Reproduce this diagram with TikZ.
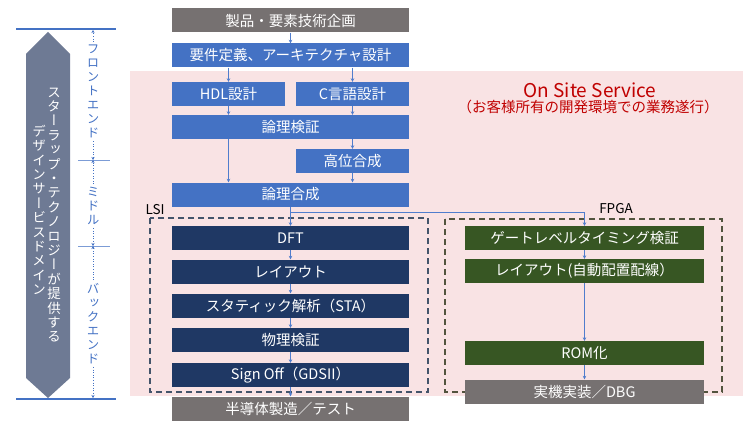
\documentclass[tikz,border=0pt]{standalone}
\usepackage{fontspec}
\setmainfont{Noto Sans CJK JP}
\newfontfamily\vjp[RawFeature=+vert]{Noto Sans CJK JP}
\usepackage{xcolor}
\usetikzlibrary{arrows.meta,positioning,calc}
\definecolor{procgray}{RGB}{118,113,113}
\definecolor{procblue}{RGB}{68,114,196}
\definecolor{lsinavy}{RGB}{31,56,100}
\definecolor{fpgagreen}{RGB}{55,86,35}
\definecolor{sitepink}{RGB}{249,227,228}
\definecolor{sitered}{RGB}{192,0,0}
\definecolor{lsidash}{RGB}{68,84,106}
\definecolor{fpgadash}{RGB}{82,84,62}
\definecolor{domaingray}{RGB}{110,122,148}
\definecolor{flowblue}{RGB}{80,125,205}

\tikzset{
  stage/.style={rectangle,fill=#1,text=white,minimum height=24pt,inner sep=0pt,
    font=\fontsize{14.5}{16}\selectfont},
  wide/.style={minimum width=237pt},
  half/.style={minimum width=113pt},
  flow/.style={draw=flowblue,line width=0.6pt,-{Stealth[length=3.5pt,width=3.5pt]}},
  phase/.style={text=procblue,align=center,inner sep=3pt,
    font=\vjp\fontsize{12.5}{14}\selectfont},
  span/.style={draw=procblue,dotted,line width=0.6pt,-{Stealth[length=3pt,width=3pt]}}
}

\begin{document}
\begin{tikzpicture}[x=1pt,y=-1pt]
  \useasboundingbox (0,0) rectangle (750,428);

  % on site service area
  \fill[sitepink] (130,71) rectangle (743,396);
  \node[text=sitered,font=\fontsize{19}{21}\selectfont] (oss) at (590,90) {On Site Service};
  \node[text=sitered,font=\fontsize{14.5}{16}\selectfont] (osssub) at (588,107) {（お客様所有の開発環境での業務遂行）};

  \draw[lsidash,dash pattern=on 6pt off 4pt,line width=1.3pt] (150,218) rectangle (428,392);
  \draw[fpgadash,dash pattern=on 6pt off 4pt,line width=1.3pt] (445,219) rectangle (722,392);
  \node[font=\fontsize{13.5}{15}\selectfont] (lsi) at (155,210) {LSI};
  \node[font=\fontsize{13.5}{15}\selectfont] (fpga) at (616,209) {FPGA};

  % front end
  \node[stage=procgray,wide] (prod) at (290.5,20.5) {製品・要素技術企画};
  \node[stage=procblue,wide] (req) at (290.5,55.5) {要件定義、アーキテクチャ設計};
  \node[stage=procblue,half] (hdl) at (228.5,94) {HDL設計};
  \node[stage=procblue,half] (clang) at (352.5,94) {C言語設計};
  \node[stage=procblue,wide] (verif) at (290.5,127) {論理検証};
  \node[stage=procblue,half] (hls) at (352.5,161) {高位合成};
  \node[stage=procblue,wide] (synth) at (290.5,194.5) {論理合成};

  % LSI flow
  \node[stage=lsinavy,wide] (dft) at (290.5,238) {DFT};
  \node[stage=lsinavy,wide] (layout) at (290.5,271.5) {レイアウト};
  \node[stage=lsinavy,wide] (sta) at (290.5,305.5) {スタティック解析（STA）};
  \node[stage=lsinavy,wide] (phys) at (290.5,340) {物理検証};
  \node[stage=lsinavy,wide] (signoff) at (290.5,375) {Sign Off（GDSII）};
  \node[stage=procgray,wide] (fab) at (290.5,408.5) {半導体製造／テスト};

  % FPGA flow
  \node[stage=fpgagreen,minimum width=239pt] (gate) at (584.5,238) {ゲートレベルタイミング検証};
  \node[stage=fpgagreen,minimum width=239pt] (pnr) at (584.5,271) {レイアウト(自動配置配線）};
  \node[stage=fpgagreen,minimum width=239pt] (rom) at (584.5,353) {ROM化};
  \node[stage=procgray,minimum width=239pt] (dbg) at (584.5,391.5) {実機実装／DBG};

  \coordinate (split) at (290.5,212);

  \draw[flow] (prod) -- (req);
  \draw[flow] (hdl.north |- req.south) -- (hdl.north);
  \draw[flow] (clang.north |- req.south) -- (clang.north);
  \draw[flow] (hdl) -- (hdl.south |- verif.north);
  \draw[flow] (clang) -- (clang.south |- verif.north);
  \draw[flow] (hls.north |- verif.south) -- (hls.north);
  \draw[flow] (hdl.south |- verif.south) -- (hdl.south |- synth.north);
  \draw[flow] (hls) -- (hls.south |- synth.north);
  \draw[flow] (synth) -- (dft);
  \draw[flow] (split) -| (gate.north);
  \draw[flow] (dft) -- (layout);
  \draw[flow] (layout) -- (sta);
  \draw[flow] (sta) -- (phys);
  \draw[flow] (phys) -- (signoff);
  \draw[flow] (signoff) -- (fab);
  \draw[flow] (gate) -- (pnr);
  \draw[flow] (pnr) -- (rom);
  \draw[flow] (rom) -- (dbg);

  % design service domain
  \fill[domaingray] (48,32) -- (70,54) -- (70,378) -- (48,398) -- (26,378) -- (26,54) -- cycle;
  \node[text=white,align=center,inner sep=0pt,font=\vjp\fontsize{13.5}{14.4}\selectfont] (domainR) at (54,215)
    {ス\\タ\\ー\\ラ\\ッ\\プ\\・\\テ\\ク\\ノ\\ロ\\ジ\\ー\\が\\提\\供\\す\\る};
  \node[text=white,align=center,inner sep=0pt,font=\vjp\fontsize{13.5}{14.4}\selectfont] (domainL) at (39,210)
    {デ\\ザ\\イ\\ン\\サ\\ー\\ビ\\ス\\ド\\メ\\イ\\ン};

  \draw[procblue,line width=2pt] (16,29) -- (116,29);
  \draw[procblue,line width=2pt] (16,399) -- (116,399);
  \draw[procblue!70,line width=0.8pt] (78,160) -- (110,160);
  \draw[procblue!70,line width=0.8pt] (78,246) -- (110,246);

  \coordinate (t0) at (93,30);
  \coordinate (t1) at (93,160);
  \coordinate (t2) at (93,246);
  \coordinate (t3) at (93,398);
  \node[phase] (front) at (93,91.5) {フ\\ロ\\ン\\ト\\エ\\ン\\ド};
  \node[phase] (middle) at (93,206) {ミ\\ド\\ル};
  \node[phase] (back) at (93,323.5) {バ\\ッ\\ク\\エ\\ン\\ド};
  \draw[span] (front.north) -- (t0);
  \draw[span] (front.south) -- (t1);
  \draw[span] (middle.north) -- (t1);
  \draw[span] (middle.south) -- (t2);
  \draw[span] (back.north) -- (t2);
  \draw[span] (back.south) -- (t3);
\end{tikzpicture}
\end{document}
